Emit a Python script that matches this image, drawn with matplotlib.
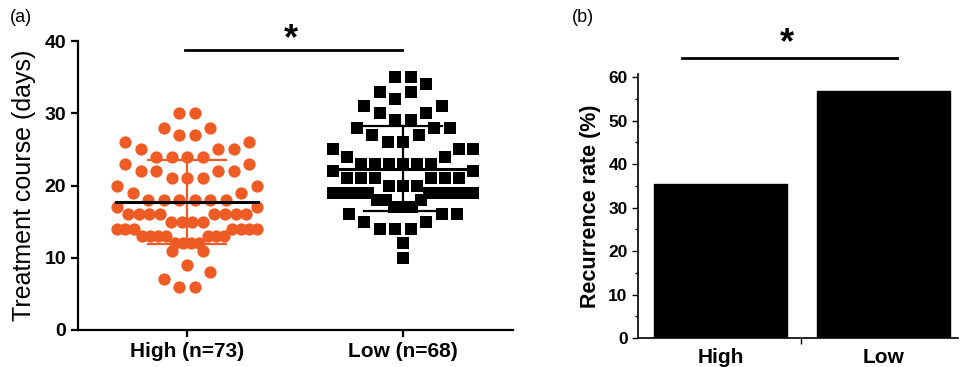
import numpy as np
import matplotlib
import matplotlib.pyplot as plt

matplotlib.use('Agg')
plt.rcParams['font.family'] = ['Liberation Sans', 'DejaVu Sans']

# treatment course (days), one entry per patient
high_days = [30, 30, 28, 28, 27, 27, 26, 26, 25, 25, 25, 24, 24, 24, 24,
             23, 23, 22, 22, 22, 22, 21, 21, 21, 20, 20, 19, 19,
             18, 18, 18, 18, 18, 18, 17, 17,
             16, 16, 16, 16, 16, 16, 16, 16, 15, 15, 15, 15,
             14, 14, 14, 14, 14, 14, 14, 13, 13, 13, 13, 13, 13, 13,
             12, 12, 12, 12, 11, 11, 9, 8, 7, 6, 6]
low_days = [35, 35, 34, 33, 33, 32, 31, 31, 30, 30, 29, 29, 28, 28, 28,
            27, 27, 26, 26, 25, 25, 25, 24, 24, 23, 23, 23, 23, 23, 23,
            22, 22, 21, 21, 21, 21, 21, 21, 20, 20, 20,
            19, 19, 19, 19, 19, 19, 19, 19, 19, 19, 19,
            18, 18, 18, 17, 17, 17, 16, 16, 16, 15, 15, 14, 14, 14, 12, 10]
groups = ['High (n=73)', 'Low (n=68)']
bar_groups = ['High', 'Low']
recurrence = [35.3, 56.7]

orange = '#EF5B24'
DPI = 100
W, H = 9.61, 3.67


def prism_swarm(values, origin=0, bin_h=3, spacing=15.5, max_w=140):
    # points grouped in bins of bin_h units, spread centre-out inside each bin (px offsets)
    v = np.asarray(values, float)
    offs = np.zeros(len(v))
    bins = np.floor((v - origin) / bin_h)
    for b in np.unique(bins):
        idx = np.where(bins == b)[0]
        idx = idx[np.argsort(v[idx], kind='stable')]
        n = len(idx)
        s = min(spacing, max_w / (n - 1)) if n > 1 else spacing
        slots = sorted((np.arange(n) - (n - 1) / 2) * s, key=lambda x: (round(abs(x), 6), x))
        offs[idx] = slots
    return offs


fig = plt.figure(figsize=(W, H), dpi=DPI)

# ---- panel (a)
ax = fig.add_axes([78 / 961, 1 - 330 / 367, 435 / 961, 289 / 367])
xlim = (-0.505, 1.509)
ylim = (0, 40)
ax.set_xlim(*xlim)
ax.set_ylim(*ylim)
sx = 435 / (xlim[1] - xlim[0])

for k, (vals, col, mk, s, org) in enumerate([(high_days, orange, 'o', 78, 0),
                                             (low_days, 'black', 's', 64, 2)]):
    vals = np.array(vals, float)
    offs = prism_swarm(vals, origin=org)
    ax.scatter(k + offs / sx, vals, s=s, marker=mk, color=col, linewidths=0,
               zorder=2, clip_on=False)
    m, sd = vals.mean(), vals.std(ddof=1)
    ax.plot([k - 0.33, k + 0.33], [m, m], color='black', lw=2.2, zorder=4)
    ax.plot([k, k], [m - sd, m + sd], color=col, lw=1.6, zorder=3)
    for yy in (m - sd, m + sd):
        ax.plot([k - 0.18, k + 0.18], [yy, yy], color=col, lw=1.6, zorder=3)

ax.spines['top'].set_visible(False)
ax.spines['right'].set_visible(False)
for sp in ('left', 'bottom'):
    ax.spines[sp].set_linewidth(1.6)
ax.set_yticks([0, 10, 20, 30, 40])
ax.set_xticks([0, 1])
ax.set_xticklabels(groups, fontsize=15, fontweight='bold')
ax.tick_params(axis='y', labelsize=14, width=1.6, length=5)
ax.tick_params(axis='x', width=1.6, length=5)
for t in ax.get_yticklabels():
    t.set_fontweight('bold')
ax.set_ylabel('Treatment course (days)', fontsize=18, labelpad=6)

ax.plot([-0.01, 0.995], [38.7, 38.7], color='black', lw=2, clip_on=False)
ax.text(0.48, 40.2, '*', fontsize=26, fontweight='bold', ha='center', va='center')
fig.text(10 / 961, 1 - 18 / 367, '(a)', fontsize=13, va='center')

# ---- panel (b)
bx = fig.add_axes([638 / 961, 1 - 338 / 367, 320 / 961, 264 / 367])
bx.set_xlim(-0.506, 1.457)
bx.set_ylim(0, 60.7)
bx.bar([0, 1], recurrence, width=0.816, color='black', edgecolor='black')
bx.spines['top'].set_visible(False)
bx.spines['right'].set_visible(False)
for sp in ('left', 'bottom'):
    bx.spines[sp].set_linewidth(1.2)
bx.set_yticks([0, 10, 20, 30, 40, 50, 60])
bx.set_yticks(np.arange(5, 60, 10), minor=True)
bx.set_xticks([0, 1])
bx.set_xticks([0.494], minor=True)
bx.set_xticklabels(bar_groups, fontsize=15, fontweight='bold')
bx.tick_params(axis='x', which='major', length=0, pad=7)
bx.tick_params(axis='x', which='minor', length=4, width=1)
bx.tick_params(axis='y', which='major', labelsize=12.5, length=4, width=1)
bx.tick_params(axis='y', which='minor', length=2.5, width=1)
for t in bx.get_yticklabels():
    t.set_fontweight('bold')
bx.set_ylabel('Recurrence rate (%)', fontsize=15.5, fontweight='bold', labelpad=5)

bx.plot([-0.236, 1.08], [64.4, 64.4], color='black', lw=2, clip_on=False)
bx.text(0.41, 67.6, '*', fontsize=26, fontweight='bold', ha='center', va='center')
fig.text(572 / 961, 1 - 18 / 367, '(b)', fontsize=13, va='center')

fig.savefig('out.png', dpi=DPI)
